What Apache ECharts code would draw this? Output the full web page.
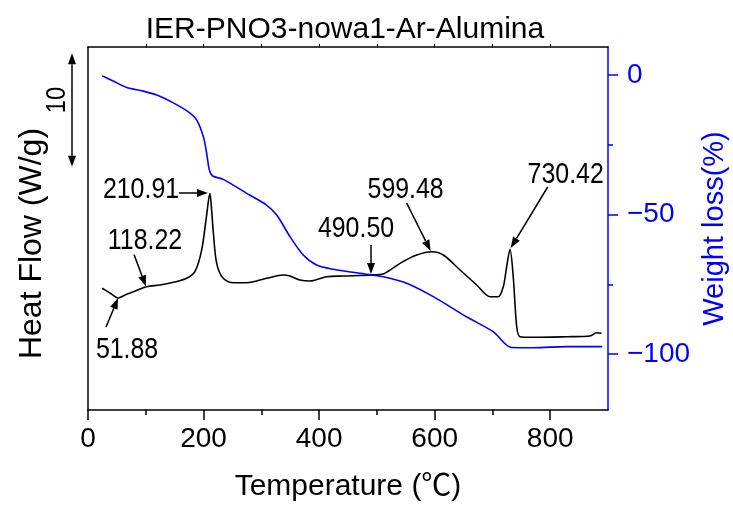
<!DOCTYPE html>
<html>
<head>
<meta charset="utf-8">
<script src="https://cdn.jsdelivr.net/npm/echarts@6/dist/echarts.min.js"></script>
<style>
html,body{margin:0;padding:0;background:#fff;overflow:hidden;}
#c{width:733px;height:506px;}
</style>
</head>
<body>
<div id="c"></div>
<script>
// ---- data ----
const titleText = 'IER-PNO3-nowa1-Ar-Alumina';
const xTickLabels = [0, 200, 400, 600, 800];
const xMinorTicks = [100, 300, 500, 700];
const rightTickLabels = [0, -50, -100];
const rightMinorTicks = [-25, -75];

const hfTemp = [24.7, 40, 52, 67, 85, 101.5, 124.6, 150, 170.8, 185, 196.7, 205, 210.9, 214, 217, 222.7, 234, 251.5, 274.6, 309, 338, 349.6, 367, 384, 413, 441.9, 491, 511, 540, 569, 595, 615, 644, 672.7, 695.8, 710, 718.8, 724.6, 730.4, 736, 742, 747.7, 770.8, 828.5, 868.8, 880.4, 889];
const hfValue = [10.73, 10.25, 9.87, 10.20, 10.55, 10.87, 11.02, 11.28, 11.61, 12.19, 14.10, 17.04, 19.10, 17.6, 15.60, 12.93, 11.61, 11.22, 11.22, 11.61, 11.90, 11.81, 11.46, 11.37, 11.75, 11.81, 11.90, 11.99, 12.93, 13.66, 13.95, 13.66, 12.34, 11.02, 9.99, 9.99, 10.87, 12.63, 14.17, 11.75, 7.34, 6.46, 6.41, 6.46, 6.52, 6.81, 6.76];

const wlTemp = [24.7, 43.8, 67, 95.7, 118.9, 147.6, 173.6, 188, 199.6, 205.4, 210, 215.8, 234, 274.6, 309, 326.6, 349.6, 372.6, 395.8, 424.6, 482, 511, 551.5, 597.6, 655, 701.5, 733, 771, 828.5, 890];
const wlValue = [-0.4, -2.2, -4.5, -5.8, -7.2, -10, -13.2, -16.1, -22.1, -28.1, -34, -36.2, -37.4, -42.4, -46.6, -50.2, -57.9, -64.5, -68.1, -69.6, -71.4, -72.3, -74.6, -79.4, -86.6, -92, -97.6, -97.7, -97.3, -97.3];

// annotations: label, anchor temperature, anchor heat flow
const annLabels = ['51.88', '118.22', '210.91', '490.50', '599.48', '730.42'];
const annTemp = [52, 100.4, 207.7, 489.8, 593, 731.6];
const annValue = [9.87, 10.89, 19.13, 11.99, 14.02, 14.28];

// scale bar for heat flow (10 W/g)
const scaleBarTop = 31.45;
const scaleBarSize = 10;

// ---- layout (pixels, not data) ----
const annLayout = [
  {tail: [-12, 29], label: [9, 52]},
  {tail: [-12, -32], label: [-1, -46]},
  {tail: [-29, 0], label: [-67, -3]},
  {tail: [0, -29], label: [-15, -45]},
  {tail: [-24, -48], label: [-25, -61]},
  {tail: [37, -61], label: [55, -73]}
];

const BLUE = '#0000ff';
const NUMFONT = '"Liberation Sans", sans-serif';
const TXTFONT = '"Liberation Sans", "Noto Sans CJK JP", sans-serif';
const zip = (a, b) => a.map((v, i) => [v, b[i]]);
const minus = v => (v < 0 ? '\u2212' + Math.abs(v) : String(v));

const chart = echarts.init(document.getElementById('c'), null, {renderer: 'canvas'});
const gridLeft = 88;

chart.setOption({
  animation: false,
  backgroundColor: '#fff',
  title: {
    text: titleText, left: 340, top: 10, textAlign: 'center',
    textStyle: {fontFamily: TXTFONT, fontSize: 30, fontWeight: 'normal', color: '#000'}
  },
  grid: {left: gridLeft, right: 125, top: 47, bottom: 96, containLabel: false, outerBoundsMode: 'none'},
  xAxis: [
    {
      type: 'value', min: 0, max: 900, position: 'bottom',
      axisLine: {show: true, onZero: false, lineStyle: {color: '#000', width: 1.5}},
      axisTick: {show: true, customValues: xTickLabels, length: 10, lineStyle: {color: '#000', width: 1.5}},
      axisLabel: {customValues: xTickLabels, fontFamily: NUMFONT, fontSize: 28, color: '#000', margin: 15},
      splitLine: {show: false},
      name: 'Temperature (\u2103)', nameLocation: 'middle', nameGap: 62,
      nameTextStyle: {fontFamily: TXTFONT, fontSize: 30, color: '#000'}
    },
    {
      type: 'value', min: 0, max: 900, position: 'bottom',
      axisLine: {show: false, onZero: false},
      axisTick: {show: true, customValues: xMinorTicks, length: 5, lineStyle: {color: '#000', width: 1.5}},
      axisLabel: {show: false}, splitLine: {show: false}
    },
    {
      type: 'value', min: 0, max: 900, position: 'top',
      axisLine: {show: true, onZero: false, lineStyle: {color: '#000', width: 1.5}},
      axisTick: {show: true, customValues: xMinorTicks.concat(xTickLabels.slice(1)), length: 3, lineStyle: {color: '#000', width: 1}},
      axisLabel: {show: false}, splitLine: {show: false}
    }
  ],
  yAxis: [
    {
      type: 'value', min: 0, max: 32, position: 'left',
      axisLine: {show: true, onZero: false, lineStyle: {color: '#000', width: 1.5}},
      axisTick: {show: false}, axisLabel: {show: false}, splitLine: {show: false},
      name: 'Heat Flow (W/g)', nameLocation: 'middle', nameGap: 40,
      nameTextStyle: {fontFamily: TXTFONT, fontSize: 32, color: '#000', padding: [0, 30, 0, 0]}
    },
    {
      type: 'value', min: -120, max: 10, position: 'right',
      axisLine: {show: true, onZero: false, lineStyle: {color: BLUE, width: 1.5}},
      axisTick: {show: true, customValues: rightTickLabels, length: 10, lineStyle: {color: BLUE, width: 1.5}},
      axisLabel: {customValues: rightTickLabels, formatter: minus, fontFamily: NUMFONT, fontSize: 28, color: BLUE, margin: 19},
      splitLine: {show: false},
      name: 'Weight loss(%)', nameLocation: 'middle', nameGap: 92,
      nameTextStyle: {fontFamily: TXTFONT, fontSize: 29, color: BLUE}
    },
    {
      type: 'value', min: -120, max: 10, position: 'right',
      axisLine: {show: false, onZero: false},
      axisTick: {show: true, customValues: rightMinorTicks, length: 5, lineStyle: {color: BLUE, width: 1.5}},
      axisLabel: {show: false}, splitLine: {show: false}
    }
  ],
  series: [
    {
      name: 'Heat Flow', type: 'line', xAxisIndex: 0, yAxisIndex: 0,
      data: zip(hfTemp, hfValue), showSymbol: false, smooth: 0.3,
      lineStyle: {color: '#000', width: 1.6}
    },
    {
      name: 'Weight loss', type: 'line', xAxisIndex: 0, yAxisIndex: 1,
      data: zip(wlTemp, wlValue), showSymbol: false, smooth: 0.3,
      lineStyle: {color: BLUE, width: 1.6}
    }
  ]
});

function arrowHead(tip, from, len, half) {
  const dx = tip[0] - from[0], dy = tip[1] - from[1];
  const d = Math.hypot(dx, dy) || 1;
  const ux = dx / d, uy = dy / d;
  const bx = tip[0] - ux * len, by = tip[1] - uy * len;
  return {
    base: [bx, by],
    pts: [[tip[0], tip[1]], [bx - uy * half, by + ux * half], [bx + uy * half, by - ux * half]]
  };
}

const g = [];
annLabels.forEach((lab, i) => {
  const tip = chart.convertToPixel({xAxisIndex: 0, yAxisIndex: 0}, [annTemp[i], annValue[i]]);
  const L = annLayout[i];
  const tail = [tip[0] + L.tail[0], tip[1] + L.tail[1]];
  const h = arrowHead(tip, tail, 11, 4);
  g.push({type: 'line', shape: {x1: tail[0], y1: tail[1], x2: h.base[0], y2: h.base[1]}, style: {stroke: '#000', lineWidth: 1.5}, z: 10});
  g.push({type: 'polygon', shape: {points: h.pts}, style: {fill: '#000'}, z: 10});
  g.push({type: 'text', x: tip[0] + L.label[0], y: tip[1] + L.label[1], scaleX: 0.83,
    style: {text: lab, fontFamily: NUMFONT, fontSize: 30, fill: '#000', align: 'center', verticalAlign: 'middle'}, z: 10});
});

// scale bar
const sTop = chart.convertToPixel({yAxisIndex: 0}, scaleBarTop);
const sBot = chart.convertToPixel({yAxisIndex: 0}, scaleBarTop - scaleBarSize);
const sx = gridLeft - 16;
const hTop = arrowHead([sx, sTop], [sx, sBot], 11, 4);
const hBot = arrowHead([sx, sBot], [sx, sTop], 11, 4);
g.push({type: 'line', shape: {x1: sx, y1: hTop.base[1], x2: sx, y2: hBot.base[1]}, style: {stroke: '#000', lineWidth: 1.5}});
g.push({type: 'polygon', shape: {points: hTop.pts}, style: {fill: '#000'}});
g.push({type: 'polygon', shape: {points: hBot.pts}, style: {fill: '#000'}});
g.push({type: 'text', x: sx - 15, y: (sTop + sBot) / 2 - 10, rotation: Math.PI / 2, scaleX: 0.85,
  style: {text: String(scaleBarSize), fontFamily: NUMFONT, fontSize: 28, fill: '#000', align: 'center', verticalAlign: 'middle'}});

chart.setOption({graphic: g});
</script>
</body>
</html>
